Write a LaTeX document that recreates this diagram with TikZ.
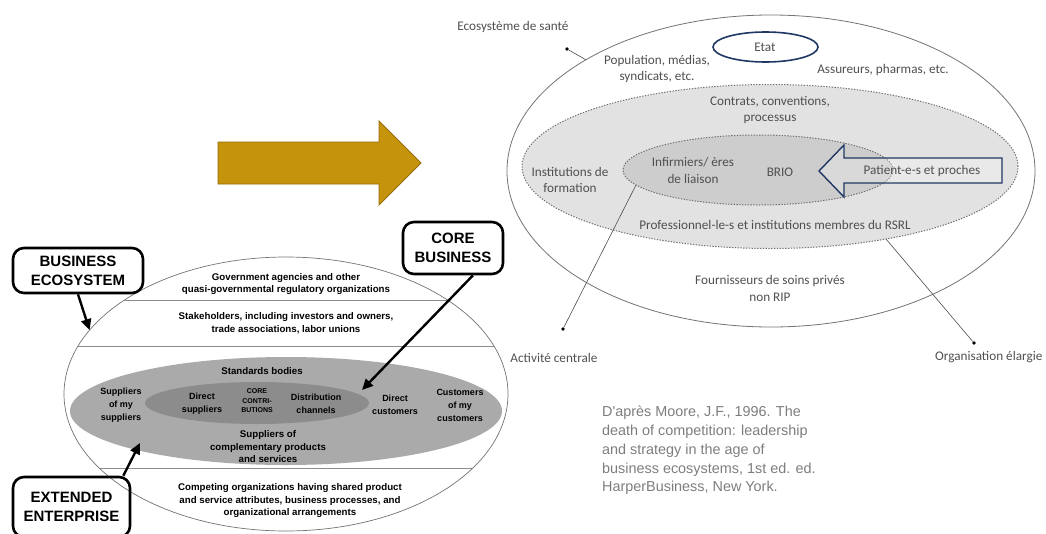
\documentclass[tikz,border=0pt]{standalone}
\usepackage{fontspec}
\setmainfont{Carlito}
\newfontfamily\arialfont{Liberation Sans}
\usetikzlibrary{shapes.geometric,arrows.meta}
\definecolor{goldfill}{RGB}{198,148,12}
\definecolor{goldline}{RGB}{150,108,8}
\definecolor{navy}{RGB}{31,56,100}
\definecolor{txtgray}{RGB}{80,80,80}
\definecolor{citegray}{RGB}{125,125,125}
\definecolor{lgrey}{RGB}{226,226,226}
\definecolor{mgrey}{RGB}{205,205,205}
\definecolor{lgreyL}{RGB}{170,170,170}
\definecolor{dgreyL}{RGB}{140,140,140}
\definecolor{dotline}{RGB}{110,110,110}
\tikzset{
  ell/.style={ellipse, inner sep=0pt, outer sep=0pt},
  rtxt/.style={text=txtgray, align=center, font=\fontsize{13.2}{16.5}\selectfont, inner sep=0pt},
  ltxt/.style={align=center, font=\arialfont\bfseries\fontsize{9.7}{12.5}\selectfont, inner sep=0pt},
  stxt/.style={align=center, font=\arialfont\bfseries\fontsize{9}{13}\selectfont, inner sep=0pt},
  callout/.style={draw, line width=2.6pt, rounded corners=11pt, align=center,
    font=\arialfont\bfseries\fontsize{15}{19}\selectfont, inner sep=0pt},
  bigarrow/.style={line width=2.4pt, -{Triangle[length=11pt,width=10pt]}},
  dotted line/.style={draw=dotline, line width=1pt, dash pattern=on 1.3pt off 1.5pt},
  thin connector/.style={draw=black!70, line width=0.6pt},
  dot/.style={circle, fill=black, inner sep=0pt, minimum size=3.6pt}
}
\begin{document}
\begin{tikzpicture}[x=1pt,y=-1pt]
\useasboundingbox (0,0) rectangle (1046,533);
\clip (0,0) rectangle (1046,533);

% ---------------- gold arrow ----------------
\draw[fill=goldfill, draw=goldline, line width=0.8pt]
  (218,142) -- (379,142) -- (379,121) -- (421,163) -- (379,205) -- (379,184) -- (218,184) -- cycle;

% ---------------- left diagram ----------------
\node[ell, draw=black!55, line width=0.7pt, fill=white, minimum width=444pt, minimum height=274pt] (lbig) at (286,394) {};
\begin{scope}
  \clip (286,394) ellipse [x radius=222pt, y radius=137pt];
  \draw[black!45, line width=0.7pt] (60,300) -- (515,300);
  \draw[black!45, line width=0.7pt] (60,346) -- (515,346);
  \draw[black!45, line width=0.7pt] (60,468) -- (515,468);
\end{scope}
\node[ell, fill=lgreyL, minimum width=432pt, minimum height=108pt] (lmid) at (286,411) {};
\node[ell, fill=dgreyL, minimum width=224pt, minimum height=42pt] (lcore) at (257,403) {};

\node[ltxt] (gov) at (286,284) {Government agencies and other\\quasi-governmental regulatory organizations};
\node[ltxt] (stake) at (286,323) {Stakeholders, including investors and owners,\\trade associations, labor unions};
\node[ltxt] (std) at (262,371) {Standards bodies};
\node[stxt] (sos) at (121,405) {Suppliers\\of my\\suppliers};
\node[stxt] (dsup) at (202,403.5) {Direct\\suppliers};
\node[stxt, font=\arialfont\bfseries\fontsize{7}{9.5}\selectfont] (corec) at (257,401) {CORE\\CONTRI-\\BUTIONS};
\node[stxt] (dist) at (316,403.5) {Distribution\\channels};
\node[stxt] (dcus) at (395,405) {Direct\\customers};
\node[stxt] (coc) at (460,405) {Customers\\of my\\customers};
\node[ltxt] (compl) at (268,447) {Suppliers of\\complementary products\\and services};
\node[ltxt] (comp) at (290,501) {Competing organizations having shared product\\and service attributes, business processes, and\\organizational arrangements};

\node[callout, minimum width=130pt, minimum height=45pt] (be) at (78,270.5) {BUSINESS\\ECOSYSTEM};
\node[callout, minimum width=100pt, minimum height=52pt] (cb) at (453,248) {CORE\\BUSINESS};
\node[callout, minimum width=117pt, minimum height=60pt] (ee) at (71.5,507) {EXTENDED\\ENTERPRISE};

\coordinate (eetip) at (140,443);
\coordinate (cbtip) at (362,390);
\draw[bigarrow] (be.south) -- (lbig.162);
\draw[bigarrow] ([xshift=20pt]cb.south) -- (cbtip);
\draw[bigarrow] ([xshift=-8pt]ee.north east) -- (eetip);

% ---------------- right diagram ----------------
\node[ell, draw=black!55, line width=0.8pt, fill=white, minimum width=528pt, minimum height=312pt] (rbig) at (771,171) {};
\node[ell, dotted line, fill=lgrey, minimum width=496pt, minimum height=164pt] (rmid) at (770,166.5) {};
\node[ell, dotted line, fill=mgrey, minimum width=270pt, minimum height=70pt] (rin) at (758,170) {};
\node[ell, draw=navy, line width=1.6pt, minimum width=105pt, minimum height=30pt] (etat) at (765.5,47) {};
\node[rtxt] (etatlbl) at (765,47) {Etat};

\draw[draw=navy, line width=1.4pt, fill=white, fill opacity=0.25]
  (819,171) -- (844,145) -- (844,158) -- (1002,158) -- (1002,183) -- (844,183) -- (844,197) -- cycle;
\node[rtxt] (pat) at (922,171) {Patient-e-s et proches};

\node[rtxt] (eco) at (513,27) {Ecosystème de santé};
\node[rtxt] (pop) at (657,69) {Population, médias,\\syndicats, etc.};
\node[rtxt] (ass) at (883,70) {Assureurs, pharmas, etc.};
\node[rtxt] (contr) at (770,110) {Contrats, conventions,\\processus};
\node[rtxt] (inst) at (570,180) {Institutions de\\formation};
\node[rtxt] (inf) at (693,170.5) {Infirmiers/ ères\\de liaison};
\node[rtxt] (brio) at (780,172) {BRIO};
\node[rtxt] (prof) at (775,225) {Professionnel-le-s et institutions membres du RSRL};
\node[rtxt] (fourn) at (770,288.5) {Fournisseurs de soins privés\\non RIP};
\node[rtxt] (act) at (554,358) {Activité centrale};
\node[rtxt, anchor=west] (org) at (935,357) {Organisation élargie};

\node[dot] (decod) at (567,49) {};
\node[dot] (dact) at (563,329) {};
\node[dot] (dorg) at (974,343) {};
\draw[thin connector] (decod) -- (rbig.149.6);
\draw[thin connector] (rin.187) -- (dact);
\draw[thin connector] (rmid.328) -- (dorg);

\node[anchor=north west, align=left, text=citegray, inner sep=0pt,
      font=\arialfont\fontsize{14.4}{18.75}\selectfont] (cite) at (602,406)
  {D'après Moore, J.F., 1996. The\\death of competition: leadership\\and strategy in the age of\\business ecosystems, 1st ed. ed.\\HarperBusiness, New York.};
\end{tikzpicture}
\end{document}
